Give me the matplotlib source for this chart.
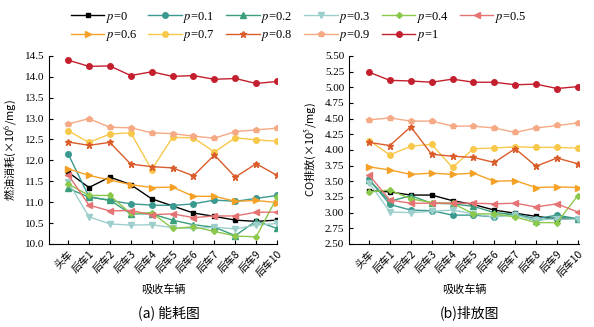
import matplotlib.pyplot as plt
import numpy as np

plt.rcParams['font.family'] = ['Liberation Serif', 'Noto Sans CJK SC']
plt.rcParams['mathtext.fontset'] = 'stix'

vehicles = ['头车', '后车1', '后车2', '后车3', '后车4', '后车5',
            '后车6', '后车7', '后车8', '后车9', '后车10']
p_labels = ['0', '0.1', '0.2', '0.3', '0.4', '0.5', '0.6', '0.7', '0.8', '0.9', '1']

# fuel consumption (x10^6 /mg)
fuel_p0 = [11.72, 11.35, 11.60, 11.42, 11.08, 10.91, 10.74, 10.66, 10.57, 10.54, 10.57]
fuel_p01 = [12.16, 11.13, 11.04, 10.96, 10.93, 10.92, 10.96, 11.05, 11.02, 11.09, 11.16]
fuel_p02 = [11.33, 11.12, 11.05, 10.72, 10.72, 10.57, 10.46, 10.40, 10.20, 10.55, 10.37]
fuel_p03 = [11.49, 10.65, 10.48, 10.45, 10.46, 10.39, 10.37, 10.40, 10.36, 10.45, 10.49]
fuel_p04 = [11.44, 11.16, 11.16, 10.73, 10.75, 10.37, 10.41, 10.30, 10.19, 10.17, 11.12]
fuel_p05 = [11.66, 10.93, 10.79, 10.80, 10.70, 10.72, 10.63, 10.67, 10.67, 10.76, 10.76]
fuel_p06 = [11.80, 11.64, 11.53, 11.42, 11.35, 11.36, 11.14, 11.14, 11.02, 11.04, 10.99]
fuel_p07 = [12.71, 12.43, 12.63, 12.66, 11.78, 12.55, 12.54, 12.20, 12.54, 12.49, 12.46]
fuel_p08 = [12.44, 12.36, 12.43, 11.91, 11.85, 11.82, 11.63, 12.13, 11.60, 11.92, 11.64]
fuel_p09 = [12.87, 13.00, 12.79, 12.78, 12.66, 12.64, 12.58, 12.53, 12.69, 12.73, 12.77]
fuel_p1 = [14.40, 14.25, 14.26, 14.03, 14.12, 14.01, 14.03, 13.94, 13.96, 13.84, 13.89]

# CO emission
co_p0 = [3.35, 3.33, 3.28, 3.28, 3.19, 3.13, 3.04, 2.99, 2.94, 2.90, 2.90]
co_p01 = [3.53, 3.13, 3.04, 3.03, 2.96, 2.96, 2.93, 2.98, 2.90, 2.96, 2.90]
co_p02 = [3.52, 3.18, 3.27, 3.15, 3.14, 3.10, 3.00, 2.97, 2.87, 2.93, 2.90]
co_p03 = [3.48, 3.01, 3.00, 3.02, 3.04, 2.98, 2.93, 2.96, 2.88, 2.90, 2.89]
co_p04 = [3.33, 3.36, 3.22, 3.16, 3.15, 2.98, 2.98, 2.93, 2.84, 2.84, 3.27]
co_p05 = [3.60, 3.20, 3.15, 3.15, 3.15, 3.15, 3.14, 3.15, 3.09, 3.14, 3.01]
co_p06 = [3.73, 3.68, 3.61, 3.63, 3.61, 3.63, 3.50, 3.51, 3.40, 3.41, 3.40]
co_p07 = [4.15, 3.92, 4.06, 4.09, 3.72, 4.02, 4.03, 4.05, 4.04, 4.04, 4.03]
co_p08 = [4.12, 4.07, 4.37, 3.93, 3.90, 3.88, 3.80, 4.02, 3.74, 3.87, 3.78]
co_p09 = [4.48, 4.51, 4.46, 4.46, 4.38, 4.38, 4.35, 4.28, 4.35, 4.39, 4.43]
co_p1 = [5.24, 5.11, 5.10, 5.08, 5.13, 5.08, 5.08, 5.04, 5.05, 4.98, 5.01]

fuel = [fuel_p0, fuel_p01, fuel_p02, fuel_p03, fuel_p04, fuel_p05,
        fuel_p06, fuel_p07, fuel_p08, fuel_p09, fuel_p1]
co = [co_p0, co_p01, co_p02, co_p03, co_p04, co_p05,
      co_p06, co_p07, co_p08, co_p09, co_p1]

colors = ['#000000', '#3a9990', '#3a9e7c', '#9ccfcc', '#8cc84b', '#e57373',
          '#f5a125', '#f8c84a', '#d95c2a', '#f6a985', '#c41f2e']
markers = ['s', 'o', '^', 'v', 'D', '<', '>', 'o', '*', 'p', 'o']
msizes = [3.5, 4, 4, 4, 3, 4, 4, 4, 5, 4, 4]

fig = plt.figure(figsize=(5.94, 3.27), dpi=100)
ax1 = fig.add_axes([0.0825, 0.254, 0.384, 0.575])
ax2 = fig.add_axes([0.5875, 0.254, 0.387, 0.575])

x = np.arange(len(vehicles))
handles = []
for i in range(len(p_labels)):
    h, = ax1.plot(x, fuel[i], color=colors[i], marker=markers[i], ms=msizes[i],
                  lw=1.0, mec=colors[i], label='$p$=' + p_labels[i])
    ax2.plot(x, co[i], color=colors[i], marker=markers[i], ms=msizes[i],
             lw=1.0, mec=colors[i])
    handles.append(h)

for ax in (ax1, ax2):
    ax.spines['top'].set_visible(False)
    ax.spines['right'].set_visible(False)
    ax.tick_params(direction='in', labelsize=8, length=3)
    ax.set_xticks(x)
    ax.set_xticklabels(vehicles, rotation=45, ha='right', rotation_mode='anchor',
                       fontsize=7.5, family=['Noto Sans CJK SC'])
    ax.set_xlabel('吸收车辆', fontsize=8, family=['Noto Sans CJK SC'], labelpad=4)

ax1.set_xlim(-0.91, 10)
ax1.set_ylim(10.0, 14.5)
ax1.set_yticks(np.arange(10.0, 14.51, 0.5))
ax1.set_yticklabels(['%.1f' % v for v in np.arange(10.0, 14.51, 0.5)])
ax1.set_ylabel('燃油消耗(×10$^6$/mg)', fontsize=8, family=['Noto Sans CJK SC', 'DejaVu Sans'])

ax2.set_xlim(-0.96, 10.05)
ax2.set_ylim(2.5, 5.5)
ax2.set_yticks(np.arange(2.5, 5.51, 0.25))
ax2.set_yticklabels(['%.2f' % v for v in np.arange(2.5, 5.51, 0.25)])
ax2.set_ylabel('CO排放(×10$^5$/mg)', fontsize=8, family=['Noto Sans CJK SC', 'DejaVu Sans'])

# legend filled row by row
order = [0, 6, 1, 7, 2, 8, 3, 9, 4, 10, 5]
fig.legend(handles=[handles[k] for k in order], loc='upper left',
           bbox_to_anchor=(0.1, 1.005), ncol=6,
           frameon=False, fontsize=9, handlelength=2.7, columnspacing=0.9,
           handletextpad=0.1, labelspacing=0.3)

fig.text(0.285, 0.045, '(a) 能耗图', ha='center', va='center', fontsize=10,
         family=['Noto Sans CJK SC'])
fig.text(0.79, 0.045, '(b)排放图', ha='center', va='center', fontsize=10,
         family=['Noto Sans CJK SC'])

fig.savefig('out.png', dpi=100)
